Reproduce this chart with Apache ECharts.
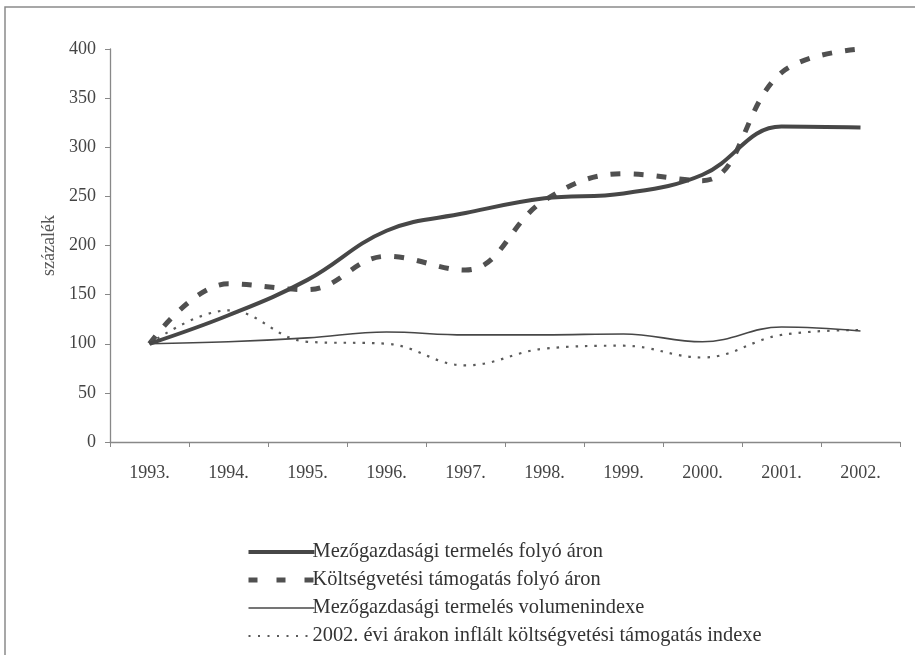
<!DOCTYPE html>
<html>
<head>
<meta charset="utf-8">
<script src="https://cdn.jsdelivr.net/npm/echarts@6/dist/echarts.min.js"></script>
<style>
  html, body { margin: 0; padding: 0; background: #fff; }
  #chart { width: 915px; height: 655px; }
</style>
</head>
<body>
<div id="chart"></div>
<script>
// évek (kategóriák)
const years = ['1993.', '1994.', '1995.', '1996.', '1997.', '1998.', '1999.', '2000.', '2001.', '2002.'];

// értékek, százalék (1993 = 100)
const termelesFolyo = [100, 129, 165, 215, 233, 248, 253, 272, 321, 320];
const tamogatasFolyo = [100, 161, 155, 189, 175, 246, 273, 266, 376, 400];
const volumenIndex = [100, 102, 106, 112, 109, 109, 110, 102, 117, 113];
const infialtTamogatas = [100, 134, 102, 100, 78, 95, 98, 86, 109, 114];

const names = [
  'Mezőgazdasági termelés folyó áron',
  'Költségvetési támogatás folyó áron',
  'Mezőgazdasági termelés volumenindexe',
  '2002. évi árakon inflált költségvetési támogatás indexe'
];

const chart = echarts.init(document.getElementById('chart'));
const serif = 'Liberation Serif';
const dark = '#474747';

const options = {
  animation: false,
  backgroundColor: '#fff',
  textStyle: { fontFamily: serif },
  graphic: [
    {
      type: 'polyline',
      shape: { points: [[5, 660], [5, 7], [920, 7]] },
      style: { fill: null, stroke: '#8a8a8a', lineWidth: 1.5 }
    }
  ],
  grid: { left: 110, right: 15, top: 49, bottom: 213 },
  legend: {
    orient: 'vertical',
    left: 241,
    top: 537,
    itemWidth: 66,
    itemHeight: 14,
    itemGap: 8,
    itemStyle: { opacity: 0 },
    textStyle: { fontFamily: serif, fontSize: 20.4, color: '#333', padding: [0, 0, 0, -7] },
    data: [
      { name: names[0], lineStyle: { width: 4 } },
      { name: names[1], lineStyle: { width: 5, type: [9, 19] } },
      { name: names[2], lineStyle: { width: 1.5 } },
      { name: names[3], lineStyle: { width: 2, type: [2, 7.5] } }
    ]
  },
  xAxis: {
    type: 'category',
    data: years,
    boundaryGap: true,
    axisLine: { lineStyle: { color: '#888', width: 1.3 } },
    axisTick: { show: true, length: 5, lineStyle: { color: '#888' } },
    axisLabel: { fontFamily: serif, fontSize: 18, color: '#444', margin: 22 }
  },
  yAxis: {
    type: 'value',
    min: 0,
    max: 400,
    interval: 50,
    name: 'százalék',
    nameLocation: 'middle',
    nameGap: 41,
    nameTextStyle: { fontFamily: serif, fontSize: 18, color: '#555' },
    axisLine: { show: true, lineStyle: { color: '#888', width: 1.3 } },
    axisTick: { show: true, length: 5, lineStyle: { color: '#888' } },
    splitLine: { show: false },
    axisLabel: { fontFamily: serif, fontSize: 18, color: '#444', margin: 14 }
  },
  series: [
    {
      name: names[0],
      type: 'line',
      data: termelesFolyo,
      smooth: 0.4,
      symbol: 'none',
      lineStyle: { color: dark, width: 4 },
      itemStyle: { color: dark },
      z: 4
    },
    {
      name: names[1],
      type: 'line',
      data: tamogatasFolyo,
      smooth: 0.4,
      symbol: 'none',
      lineStyle: { color: '#505050', width: 5, type: [10, 13] },
      itemStyle: { color: '#505050' },
      z: 3
    },
    {
      name: names[2],
      type: 'line',
      data: volumenIndex,
      smooth: 0.4,
      symbol: 'none',
      lineStyle: { color: dark, width: 1.6 },
      itemStyle: { color: dark },
      z: 2
    },
    {
      name: names[3],
      type: 'line',
      data: infialtTamogatas,
      smooth: 0.4,
      symbol: 'none',
      lineStyle: { color: '#5a5a5a', width: 2.2, type: [2.5, 7] },
      itemStyle: { color: '#5a5a5a' },
      z: 1
    }
  ]
};

chart.setOption(options);
</script>
</body>
</html>
